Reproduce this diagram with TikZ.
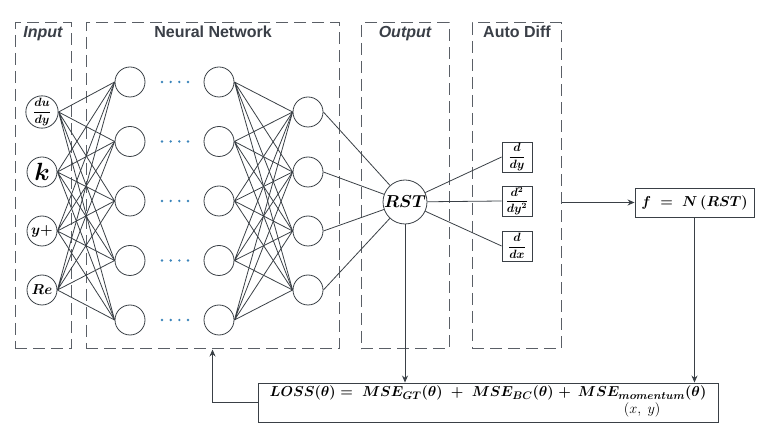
\documentclass[tikz,border=0pt]{standalone}
\usepackage{amsmath}
\usepackage{fontspec}
\setsansfont{Liberation Sans}
\usepackage{tikz}
\usetikzlibrary{arrows.meta}
\definecolor{linec}{HTML}{3A4046}
\definecolor{dashc}{HTML}{5A5F66}
\definecolor{titlec}{HTML}{3A3F47}
\definecolor{dotc}{HTML}{3B84BA}

\begin{document}
\begin{tikzpicture}[x=1pt,y=-1pt,
  neuron/.style={circle,draw=linec,line width=0.8pt,minimum size=30pt,inner sep=0pt},
  region/.style={draw=dashc,line width=1pt,dash pattern=on 12pt off 6pt,minimum height=326pt,inner sep=0pt},
  title/.style={font=\sffamily\bfseries\fontsize{16}{19}\selectfont,text=titlec,anchor=base},
  diffbox/.style={draw=linec,line width=0.8pt,minimum size=30pt,inner sep=0pt,font=\fontsize{12}{14}\selectfont},
  link/.style={draw=linec,line width=0.8pt},
  arr/.style={draw=linec,line width=0.9pt,-{Stealth[length=7pt,width=6pt]}}]
\useasboundingbox (0,0) rectangle (779,427);

% dashed regions
\node[region,minimum width=56pt] (inbox) at (43,186) {};
\node[region,minimum width=253pt] (nnbox) at (212.5,186) {};
\node[region,minimum width=88pt] (outbox) at (405,186) {};
\node[region,minimum width=89pt] (adbox) at (516.5,186) {};
\node[title] (tin) at (43,38) {\itshape Input};
\node[title] (tnn) at (213,38) {Neural Network};
\node[title] (tout) at (405,38) {\itshape Output};
\node[title] (tad) at (517,38) {Auto Diff};

% input layer
\node[neuron,font=\fontsize{13}{15}\selectfont] (i1) at (42,112) {$\dfrac{\boldsymbol{du}}{\boldsymbol{dy}}$};
\node[neuron,font=\fontsize{24}{26}\selectfont] (i2) at (42,172) {$\boldsymbol{k}$};
\node[neuron,font=\fontsize{15}{17}\selectfont] (i3) at (42,231) {$\boldsymbol{y{+}}$};
\node[neuron,font=\fontsize{15}{17}\selectfont] (i4) at (42,290) {$\boldsymbol{Re}$};

% hidden layers
\node[neuron] (a1) at (130,82) {};
\node[neuron] (a2) at (130,141.5) {};
\node[neuron] (a3) at (130,201) {};
\node[neuron] (a4) at (130,260.5) {};
\node[neuron] (a5) at (130,320) {};
\node[neuron] (b1) at (219,82) {};
\node[neuron] (b2) at (219,141.5) {};
\node[neuron] (b3) at (219,201) {};
\node[neuron] (b4) at (219,260.5) {};
\node[neuron] (b5) at (219,320) {};
\node[neuron] (c1) at (308,112) {};
\node[neuron] (c2) at (308,172) {};
\node[neuron] (c3) at (308,231) {};
\node[neuron] (c4) at (308,290) {};

% dots between hidden layers
\fill[dotc] (162,82) circle (1.3pt) (170.7,82) circle (1.3pt) (179.3,82) circle (1.3pt) (188,82) circle (1.3pt);
\fill[dotc] (162,141.5) circle (1.3pt) (170.7,141.5) circle (1.3pt) (179.3,141.5) circle (1.3pt) (188,141.5) circle (1.3pt);
\fill[dotc] (162,201) circle (1.3pt) (170.7,201) circle (1.3pt) (179.3,201) circle (1.3pt) (188,201) circle (1.3pt);
\fill[dotc] (162,260.5) circle (1.3pt) (170.7,260.5) circle (1.3pt) (179.3,260.5) circle (1.3pt) (188,260.5) circle (1.3pt);
\fill[dotc] (162,320) circle (1.3pt) (170.7,320) circle (1.3pt) (179.3,320) circle (1.3pt) (188,320) circle (1.3pt);

% output and auto diff
\node[neuron,minimum size=44pt,font=\fontsize{16}{18}\selectfont] (rst) at (405,202) {$\boldsymbol{RST}$};
\node[diffbox] (d1) at (517,157) {$\dfrac{\boldsymbol{d}}{\boldsymbol{dy}}$};
\node[diffbox] (d2) at (517,201) {$\dfrac{\boldsymbol{d^2}}{\boldsymbol{dy^2}}$};
\node[diffbox] (d3) at (517,246) {$\dfrac{\boldsymbol{d}}{\boldsymbol{dx}}$};
\node[draw=linec,line width=0.9pt,minimum width=119pt,minimum height=29pt,inner sep=2pt,font=\fontsize{15}{17}\selectfont] (f) at (694.5,202.5) {$\boldsymbol{f \;=\; N\,(RST)}$};
\node[draw=linec,line width=0.9pt,minimum width=460pt,minimum height=39pt,inner sep=2pt,font=\fontsize{15.5}{18}\selectfont] (loss) at (488,402.5)
  {$\boldsymbol{LOSS(\theta) =\; MSE_{GT}(\theta) \;+\; MSE_{BC}(\theta) \;+\;} \mathop{\boldsymbol{MSE_{momentum}(\theta)}}\limits_{\textstyle(x,\;y)}$};

% connections
\draw[link] (i1.east) -- (a1.west) (i1.east) -- (a2.west) (i1.east) -- (a3.west) (i1.east) -- (a4.west) (i1.east) -- (a5.west);
\draw[link] (i2.east) -- (a1.west) (i2.east) -- (a2.west) (i2.east) -- (a3.west) (i2.east) -- (a4.west) (i2.east) -- (a5.west);
\draw[link] (i3.east) -- (a1.west) (i3.east) -- (a2.west) (i3.east) -- (a3.west) (i3.east) -- (a4.west) (i3.east) -- (a5.west);
\draw[link] (i4.east) -- (a1.west) (i4.east) -- (a2.west) (i4.east) -- (a3.west) (i4.east) -- (a4.west) (i4.east) -- (a5.west);
\draw[link] (b1.east) -- (c1.west) (b1.east) -- (c2.west) (b1.east) -- (c3.west) (b1.east) -- (c4.west);
\draw[link] (b2.east) -- (c1.west) (b2.east) -- (c2.west) (b2.east) -- (c3.west) (b2.east) -- (c4.west);
\draw[link] (b3.east) -- (c1.west) (b3.east) -- (c2.west) (b3.east) -- (c3.west) (b3.east) -- (c4.west);
\draw[link] (b4.east) -- (c1.west) (b4.east) -- (c2.west) (b4.east) -- (c3.west) (b4.east) -- (c4.west);
\draw[link] (b5.east) -- (c1.west) (b5.east) -- (c2.west) (b5.east) -- (c3.west) (b5.east) -- (c4.west);
\draw[link] (c1.east) -- (rst) (c2.east) -- (rst) (c3.east) -- (rst) (c4.east) -- (rst);
\draw[link] (rst) -- (d1.west) (rst) -- (d2.west) (rst) -- (d3.west);

% arrows
\draw[arr] (adbox.east |- f.west) -- (f.west);
\draw[arr] (rst.south) -- (rst.south |- loss.north);
\draw[arr] (f.south) -- (f.south |- loss.north);
\draw[arr] (loss.west) -| (nnbox.south);
\end{tikzpicture}
\end{document}
